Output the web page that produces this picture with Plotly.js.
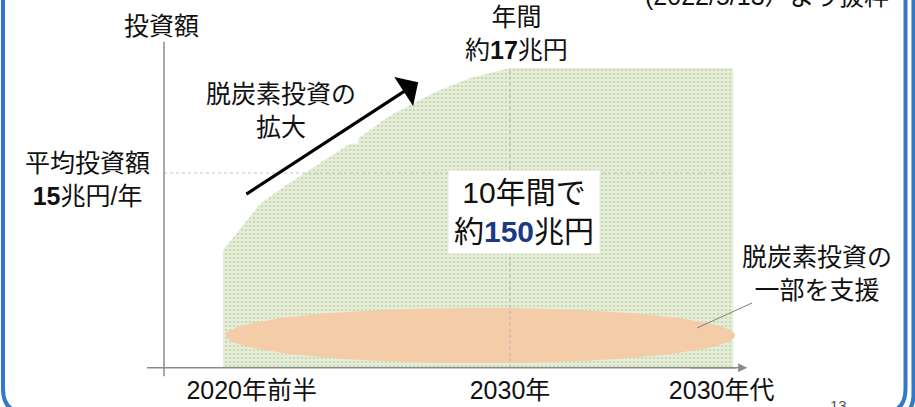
<!DOCTYPE html>
<html>
<head>
<meta charset="utf-8">
<script src="https://cdn.plot.ly/plotly-3.0.1.min.js"></script>
<style>html,body{margin:0;padding:0;background:#fff;}#chart{width:915px;height:407px;}</style>
</head>
<body>
<div id="chart"></div>
<script>
// ---- data (conceptual chart: investment, 兆円/年) ----
const tickLabels = ['2020年前半', '2030年', '2030年代'];
const tickYears = [2022.8, 2030, 2035.9];
const areaYears = [2022.0, 2022.36, 2023.03, 2023.73, 2024.43, 2025.18, 2025.90, 2026.57, 2027.30, 2028.05, 2028.89, 2030.0, 2036.22];
const areaInvest = [13.53, 13.84, 14.41, 14.75, 15.06, 15.40, 15.72, 16.05, 16.33, 16.58, 16.81, 17.0, 17.0];
const avgInvest = 15;      // 平均投資額 15兆円/年
const peakInvest = 17;     // 年間 約17兆円
const peakYear = 2030;
const axisBase = 11.29;    // value at the x axis line
const supportYears = [2022.08, 2036.27];
const supportInvest = [11.38, 12.43];

const FONT = 'Arial, "Liberation Sans", "Noto Sans CJK JP", sans-serif';
const W = 915, H = 407;
const px = x => x / W, py = y => 1 - y / H;
const BLUE = '#3578c5';

function roundFrame(l, r, b, rad, top) {
  return `M ${px(l)},${py(top)} L ${px(l)},${py(b - rad)} Q ${px(l)},${py(b)} ${px(l + rad)},${py(b)} ` +
         `L ${px(r - rad)},${py(b)} Q ${px(r)},${py(b)} ${px(r)},${py(b - rad)} L ${px(r)},${py(top)}`;
}

const traces = [
  {x: [areaYears[0], areaYears[areaYears.length - 1]], y: [axisBase, axisBase], mode: 'lines',
   line: {width: 0}, hoverinfo: 'skip', showlegend: false},
  {x: areaYears, y: areaInvest, mode: 'lines', fill: 'tonexty', line: {width: 0},
   fillcolor: '#e6eed9',
   fillpattern: {shape: '.', bgcolor: '#e7efda', fgcolor: '#cbd9b6', size: 4, solidity: 0.35},
   hoverinfo: 'skip', showlegend: false}
];

const yAxisX = 2020.355;
const shapes = [
  {type: 'circle', xref: 'x', yref: 'y', x0: supportYears[0], x1: supportYears[1], y0: supportInvest[0], y1: supportInvest[1],
   fillcolor: '#f4cca7', line: {width: 0}, layer: 'above'},
  {type: 'line', xref: 'x', yref: 'y', x0: yAxisX, x1: areaYears[areaYears.length - 1], y0: avgInvest, y1: avgInvest,
   line: {color: '#c4c4c4', width: 1, dash: 'dot'}},
  {type: 'line', xref: 'x', yref: 'y', x0: peakYear, x1: peakYear, y0: axisBase, y1: peakInvest,
   line: {color: '#b0b0b0', width: 1, dash: 'dot'}},
  {type: 'line', xref: 'x', yref: 'y', x0: yAxisX, x1: yAxisX, y0: 11.13, y1: 17.5,
   line: {color: '#8c8c8c', width: 1.5}},
  {type: 'line', xref: 'x', yref: 'y', x0: 2019.88, x1: 2036.3, y0: axisBase, y1: axisBase,
   line: {color: '#8a8a8a', width: 1.5}},
  {type: 'line', xref: 'paper', yref: 'paper', x0: px(697), y0: py(328), x1: px(752), y1: py(303),
   line: {color: '#808080', width: 1}},
  {type: 'path', xref: 'paper', yref: 'paper', path: roundFrame(3, 905.5, 413, 24, -20), line: {color: BLUE, width: 4}},
  {type: 'path', xref: 'paper', yref: 'paper', path: roundFrame(-20, 913.5, 418, 24, -20), line: {color: BLUE, width: 4}}
];

function txt(text, x, y, size, extra) {
  return Object.assign({text: text, xref: 'paper', yref: 'paper', x: px(x), y: py(y), showarrow: false,
    xanchor: 'center', yanchor: 'middle', font: {family: FONT, size: size, color: '#111'}, align: 'center'}, extra || {});
}

const annotations = [
  txt('投資額', 161, 26, 25),
  txt('平均投資額<br><b>15</b>兆円/年', 87, 179, 25),
  txt('脱炭素投資の<br>拡大', 281, 111, 25, {bgcolor: 'rgba(255,255,255,1)', borderpad: 2}),
  txt('年間<br>約<b>17</b>兆円', 516, 33, 25),
  txt('10年間で<br>約<span style="color:#1b3a82"><b>150</b></span>兆円', 524, 212, 30, {bgcolor: '#ffffff', borderpad: 5}),
  txt('脱炭素投資の<br>一部を支援', 817, 273, 25),
  txt('(2022/5/13）より抜粋', 767, -4, 25),
  txt('13', 838, 405, 15, {font: {family: FONT, size: 15, color: '#555'}}),
  // growth arrow
  {xref: 'x', yref: 'y', axref: 'x', ayref: 'y', x: 2027.44, y: 16.73, ax: 2022.61, ay: 14.58,
   text: '', showarrow: true, arrowhead: 1, arrowsize: 1.8, arrowwidth: 3.2, arrowcolor: '#000'},
  // x axis arrow head
  {xref: 'x', yref: 'y', axref: 'x', ayref: 'y', x: 2036.61, y: axisBase, ax: 2035.0, ay: axisBase,
   text: '', showarrow: true, arrowhead: 2, arrowsize: 1.2, arrowwidth: 1.5, arrowcolor: '#8a8a8a'}
];

const layout = {
  width: W, height: H,
  margin: {l: 0, r: 0, t: 0, b: 0},
  paper_bgcolor: '#fff', plot_bgcolor: '#fff',
  showlegend: false,
  xaxis: {range: [2015.784, 2041.289], showgrid: false, zeroline: false, showline: false,
          tickmode: 'array', tickvals: tickYears, ticktext: tickLabels, ticks: '',
          ticklabelposition: 'inside', tickfont: {family: FONT, size: 25, color: '#111'}, fixedrange: true},
  yaxis: {range: [10.543, 18.295], showgrid: false, zeroline: false, showline: false, showticklabels: false, fixedrange: true},
  shapes: shapes,
  annotations: annotations
};

Plotly.newPlot('chart', traces, layout, {staticPlot: true, displayModeBar: false});
</script>
</body>
</html>
